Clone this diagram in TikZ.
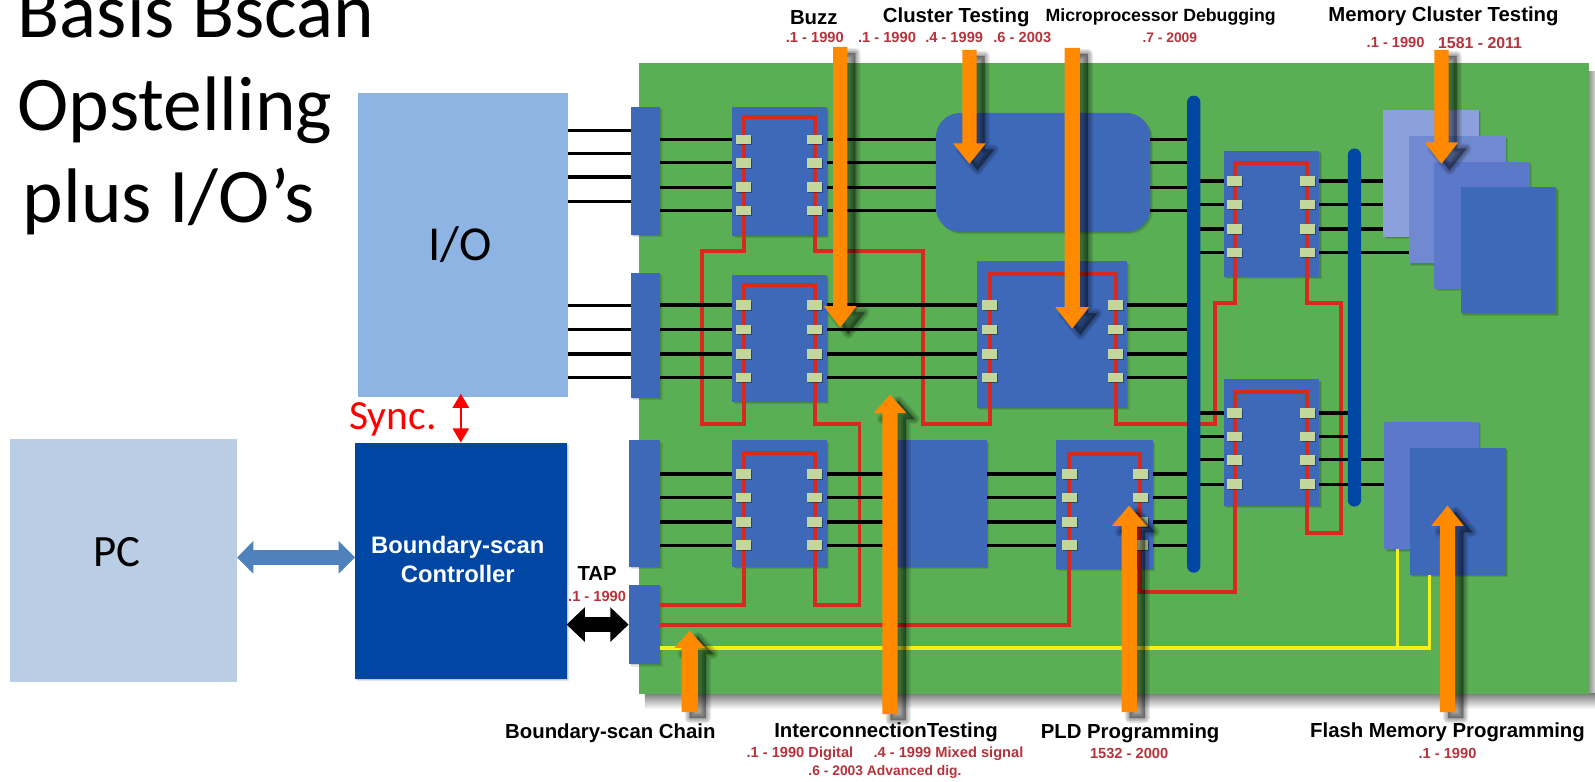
\documentclass[tikz,border=0pt]{standalone}
\usepackage{fontspec}
\setmainfont{Liberation Sans}
\newfontfamily\calfont{Carlito}
\usetikzlibrary{arrows.meta,shadows,calc}
\definecolor{boardc}{HTML}{5AAF55}
\definecolor{chipc}{HTML}{3E69B9}
\definecolor{busc}{HTML}{0047A3}
\definecolor{redr}{HTML}{D8291F}
\definecolor{orangec}{HTML}{FF8A00}
\definecolor{pinc}{HTML}{C3D69B}
\definecolor{labelred}{HTML}{B5343C}
\definecolor{yellowc}{HTML}{F4F01C}
\definecolor{iobox}{HTML}{8EB4E3}
\definecolor{pcbox}{HTML}{B9CDE5}
\definecolor{dblue}{HTML}{4F81BD}
\definecolor{memA}{HTML}{8CA1DC}
\definecolor{memB}{HTML}{7089D1}
\definecolor{memC}{HTML}{5C78CA}
\pgfdeclarelayer{toplayer}
\pgfsetlayers{main,toplayer}
\tikzset{
 softstep/.style n args={4}{general shadow={fill=black,opacity=#2,shadow xshift=#3,shadow yshift=#4}},
 softA/.style={softstep={0pt}{.12}{.6pt}{-.6pt},softstep={0pt}{.1}{1.2pt}{-1.2pt}},
 bxbase/.style={inner sep=0pt,outer sep=0pt,draw=none},
 chipbox/.style={bxbase,fill=chipc,softA},
 connbox/.style={chipbox},
 membox/.style={bxbase,softA},
 pinbox/.style={bxbase,fill=pinc,minimum width=7.4pt,minimum height=4.7pt,
   general shadow={fill=black,opacity=.35,shadow xshift=.5pt,shadow yshift=-.5pt}},
 wire/.style={draw=black,line width=1.65pt},
 ioline/.style={draw=black,line width=1.5pt},
 redroute/.style={draw=redr,line width=1.9pt,line join=miter},
 yelroute/.style={draw=yellowc,line width=1.5pt},
 orangearrow/.style={fill=orangec,draw=none},
 arrowshade/.style={fill=black,draw=black,line width=#1,opacity=.085,line join=round,shift={(8,6)}},
 head/.style={font=\bfseries\fontsize{10}{12}\selectfont,inner sep=0pt},
 sub/.style={font=\bfseries\fontsize{7.2}{9}\selectfont,text=labelred,inner sep=0pt},
 titletext/.style={font=\calfont\fontsize{38}{46}\selectfont,anchor=base west,inner sep=0pt},
}
\newcommand{\bx}[6]{%
 \pgfmathsetmacro\bxw{(#5-#3)*0.5}\pgfmathsetmacro\bxh{(#6-#4)*0.5}%
 \node[#1,minimum width=\bxw pt,minimum height=\bxh pt] (#2) at ({(#3+#5)/2},{(#4+#6)/2}) {};}
% name xl xr y1 y2 y3 y4
\newcommand{\pinset}[7]{%
 \begin{pgfonlayer}{toplayer}
 \node[pinbox] (#1L1) at (#2,#4) {}; \node[pinbox] (#1R1) at (#3,#4) {};
 \node[pinbox] (#1L2) at (#2,#5) {}; \node[pinbox] (#1R2) at (#3,#5) {};
 \node[pinbox] (#1L3) at (#2,#6) {}; \node[pinbox] (#1R3) at (#3,#6) {};
 \node[pinbox] (#1L4) at (#2,#7) {}; \node[pinbox] (#1R4) at (#3,#7) {};
 \end{pgfonlayer}}
% cx ytail ytip halfshaft halfhead headbase
\newcommand{\oarrowpath}[6]{({#1-#4},#2) -- ({#1+#4},#2) -- ({#1+#4},#6) -- ({#1+#5},#6) -- (#1,#3) -- ({#1-#5},#6) -- ({#1-#4},#6) -- cycle}
\newcommand{\oarrow}[6]{%
 \foreach \shw in {5pt,3.8pt,2.6pt,1.4pt,.2pt}{\path[arrowshade=\shw] \oarrowpath{#1}{#2}{#3}{#4}{#5}{#6};}
 \path[orangearrow] \oarrowpath{#1}{#2}{#3}{#4}{#5}{#6};}
\begin{document}
\begin{tikzpicture}[x=0.5pt,y=-0.5pt]
\useasboundingbox (0,0) rectangle (1568,767.8);
\fill[white] (0,0) rectangle (1568,767.8);
% board and its shadow
\shade[left color=black!50,right color=black!18] (1560,70) rectangle (1568,684);
\shade[top color=black!50,bottom color=white] (634,682) rectangle (1568,697);
\bx{bxbase,fill=boardc}{board}{628}{62}{1562}{682}
% left boxes
\bx{bxbase,fill=iobox}{io}{352}{91}{558}{390}
\bx{bxbase,fill=pcbox}{pc}{10}{432}{233}{670}
\bx{bxbase,fill=busc,softA}{ctrl}{349}{435}{557}{667}
% connectors
\bx{connbox}{connA}{620}{105}{649}{231}
\bx{connbox}{connB}{620}{268}{649}{391}
\bx{connbox}{connC}{618}{433}{649}{557}
\bx{connbox}{tap}{618}{575}{649}{653}
% chips
\bx{chipbox}{c1}{720}{105}{813}{232}
\bx{chipbox}{c2}{720}{270}{813}{395}
\bx{chipbox}{c3}{720}{433}{813}{557}
\bx{chipbox}{c4}{882}{433}{970}{557}
\bx{chipbox}{c5}{1038}{433}{1133}{559}
\bx{chipbox}{cb}{960}{257}{1108}{401}
\bx{chipbox}{c6}{1203}{148}{1297}{272}
\bx{chipbox}{c7}{1203}{373}{1297}{497}
\bx{chipbox,rounded corners=12pt}{clus}{920}{111}{1131}{228}
% memories
\bx{membox,fill=memA}{mA}{1360}{108}{1454}{233}
\bx{membox,fill=memB}{mB}{1385}{134}{1480}{259}
\bx{membox,fill=memC}{mC}{1410}{159}{1504}{284}
\bx{membox,fill=chipc}{mD}{1436}{184}{1530}{308}
\bx{membox,fill=memC}{fA}{1361}{415}{1454}{540}
\bx{membox,fill=chipc}{fB}{1386}{440}{1480}{565}
% pins
\pinset{c1}{731}{801}{137}{160}{184}{207}
\pinset{c2}{731}{801}{300}{324}{348}{371}
\pinset{c3}{731}{801}{466}{489}{513}{536}
\pinset{c5}{1051}{1121}{466}{489}{513}{536}
\pinset{cb}{973}{1097}{300}{324}{348}{371}
\pinset{c6}{1214}{1285}{178}{201}{225}{248}
\pinset{c7}{1214}{1285}{406}{429}{452}{476}
% route levels
\coordinate (h247) at (0,247); \coordinate (h298) at (0,298); \coordinate (h417) at (0,417);
\coordinate (h524) at (0,524); \coordinate (h582) at (0,582); \coordinate (h595) at (0,595);
\coordinate (h614) at (0,614); \coordinate (h637) at (0,637);
\coordinate (t1) at (0,115); \coordinate (t2) at (0,280); \coordinate (t3) at (0,445);
\coordinate (t5) at (0,446); \coordinate (tb) at (0,269); \coordinate (t6) at (0,160); \coordinate (t7) at (0,385);
\coordinate (v690) at (690,0); \coordinate (v845) at (845,0); \coordinate (v907) at (907,0);
\coordinate (v1194) at (1194,0); \coordinate (v1318) at (1318,0); \coordinate (v1374) at (1374,0); \coordinate (v1405) at (1405,0);
% scan chain
\draw[redroute] (tap.east|-h595) -- (c3L4|-h595) -- (c3L1|-t3) -- (c3R1|-t3) -- (c3R4|-h595)
 -- (v845|-h595) -- (v845|-h417) -- (c2R4|-h417) -- (c2R1|-t2) -- (c2L1|-t2) -- (c2L4|-h417)
 -- (v690|-h417) -- (v690|-h247) -- (c1L4|-h247) -- (c1L1|-t1) -- (c1R1|-t1) -- (c1R4|-h247)
 -- (v907|-h247) -- (v907|-h417) -- (cbL4|-h417) -- (cbL1|-tb) -- (cbR1|-tb) -- (cbR4|-h417)
 -- (v1194|-h417) -- (v1194|-h298) -- (c6L4|-h298) -- (c6L1|-t6) -- (c6R1|-t6) -- (c6R4|-h298)
 -- (v1318|-h298) -- (v1318|-h524) -- (c7R4|-h524) -- (c7R1|-t7) -- (c7L1|-t7) -- (c7L4|-h582)
 -- (c5R4|-h582) -- (c5R1|-t5) -- (c5L1|-t5) -- (c5L4|-h614) -- (tap.east|-h614);
% yellow
\draw[yelroute] (tap.east|-h637) -- (v1405|-h637) -- (v1405|-fB.south);
\draw[yelroute] (v1374|-h637) -- (v1374|-fA.south);
% I/O lines
\coordinate (io1) at (0,128); \coordinate (io2) at (0,151); \coordinate (io3) at (0,174); \coordinate (io4) at (0,198);
\foreach \k in {1,2,3,4}{
 \draw[ioline] (io.east|-io\k) -- (connA.west|-io\k);
 \draw[ioline] (io.east|-c2L\k) -- (connB.west|-c2L\k);
 \draw[wire] (connA.east|-c1L\k) -- (c1.west|-c1L\k);
 \draw[wire] (c1.east|-c1L\k) -- (clus.west|-c1L\k);
 \draw[wire] (clus.east|-c1L\k) -- ($(clus.east|-c1L\k)+(36,0)$);
 \draw[wire] (connB.east|-c2L\k) -- (c2.west|-c2L\k);
 \draw[wire] (c2.east|-c2L\k) -- (cb.west|-c2L\k);
 \draw[wire] (cb.east|-cbL\k) -- ($(cb.east|-cbL\k)+(60,0)$);
 \draw[wire] (connC.east|-c3L\k) -- (c3.west|-c3L\k);
 \draw[wire] (c3.east|-c3L\k) -- (c4.west|-c3L\k);
 \draw[wire] (c4.east|-c3L\k) -- (c5.west|-c3L\k);
 \draw[wire] (c5.east|-c5L\k) -- ($(c5.east|-c5L\k)+(35,0)$);
 \draw[wire] ($(c6.west|-c6L\k)+(-24,0)$) -- (c6.west|-c6L\k);
 \draw[wire] ($(c7.west|-c7L\k)+(-24,0)$) -- (c7.west|-c7L\k);
}
\foreach \k in {1,2,3}{\draw[wire] (c6.east|-c6R\k) -- (mA.west|-c6R\k);}
\draw[wire] (c6.east|-c6R4) -- (mB.west|-c6R4);
\draw[wire] (c7.east|-c7R1) -- ($(c7.east|-c7R1)+(30,0)$);
\draw[wire] (c7.east|-c7R2) -- ($(c7.east|-c7R2)+(30,0)$);
\draw[wire] (c7.east|-c7R3) -- (fA.west|-c7R3);
\draw[wire] (c7.east|-c7R4) -- (fA.west|-c7R4);
% buses
\bx{bxbase,fill=busc,rounded corners=3.2pt}{busA}{1167}{94}{1180}{563}
\bx{bxbase,fill=busc,rounded corners=3.2pt}{busB}{1325}{146}{1338}{498}
% block arrows
\coordinate (ay) at (0,548); \coordinate (by) at (0,614);
\draw[dblue,line width=7.5pt,{Triangle[length=8pt,width=15.5pt]}-{Triangle[length=8pt,width=15.5pt]}] (pc.east|-ay) -- (ctrl.west|-ay);
\draw[black,line width=7.7pt,{Triangle[length=9pt,width=16.5pt]}-{Triangle[length=9pt,width=16.5pt]}] (ctrl.east|-by) -- (tap.west|-by);
\draw[red,line width=1pt,shorten <=-1.5pt,{Triangle[length=7pt,width=8pt]}-{Triangle[length=7pt,width=8pt]}] (ctrl.north|-io.south) -- (ctrl.north);
% orange arrows
\begin{pgfonlayer}{toplayer}
\oarrow{826}{46}{322}{7}{16}{301}
\oarrow{953}{49}{161}{7}{16}{141}
\oarrow{1054}{47}{323}{7.5}{16.5}{302}
\oarrow{1417}{49}{161}{7}{16.5}{140}
\oarrow{875}{702}{388}{7.5}{16}{406}
\oarrow{678}{700}{620}{8}{15}{637}
\oarrow{1110}{700}{497}{7.5}{17}{517}
\oarrow{1423}{700}{497}{7.5}{16}{517}
\end{pgfonlayer}
% box text
\node[font=\calfont\fontsize{24}{28}\selectfont,inner sep=0pt] (iolabel) at (452,240) {I/O};
\node[font=\calfont\fontsize{22}{26}\selectfont,inner sep=0pt] (pclabel) at (115,543) {PC};
\node[font=\calfont\fontsize{20.4}{24}\selectfont,text=red,inner sep=0pt,anchor=base west] (synclabel) at (343,422) {Sync.};
\node[font=\bfseries\fontsize{11.7}{14.7}\selectfont,text=white,align=center,inner sep=0pt] (ctrllabel) at (450,550) {Boundary-scan\\Controller};
% title
\node[titletext] (titleA) at (17,37) {Basis Bscan};
\node[titletext] (titleB) at (17,128) {Opstelling};
\node[titletext] (titleC) at (22,219) {plus I/O’s};
% labels
\node[head] (lBuzz) at (800,17) {Buzz};
\node[sub] (sBuzz) at (801,37) {.1 - 1990};
\node[head] (lClus) at (940,17) {Cluster Testing};
\node[sub] (sClusA) at (872,37) {.1 - 1990};
\node[sub] (sClusB) at (938,37) {.4 - 1999};
\node[sub] (sClusC) at (1005,37) {.6 - 2003};
\node[head,font=\bfseries\fontsize{8.7}{11}\selectfont] (lMicro) at (1141,17) {Microprocessor Debugging};
\node[sub,font=\bfseries\fontsize{6.8}{9}\selectfont] (sMicro) at (1150,37) {.7 - 2009};
\node[head] (lMem) at (1419,16) {Memory Cluster Testing};
\node[sub] (sMemA) at (1372,42) {.1 - 1990};
\node[sub,font=\bfseries\fontsize{7.8}{9}\selectfont] (sMemB) at (1455,42) {1581 - 2011};
\node[head] (lTap) at (587,564) {TAP};
\node[sub] (sTap) at (587,586) {.1 - 1990};
\node[head] (lChain) at (600,721) {Boundary-scan Chain};
\node[head] (lInter) at (871,720) {InterconnectionTesting};
\node[sub] (sInterA) at (870,741) {.1 - 1990 Digital \ \ \ \ .4 - 1999 Mixed signal};
\node[sub,font=\bfseries\fontsize{6.8}{9}\selectfont] (sInterB) at (870,759) {.6 - 2003 Advanced dig.};
\node[head] (lPld) at (1111,721) {PLD Programming};
\node[sub] (sPld) at (1110,741) {1532 - 2000};
\node[head] (lFlash) at (1423,720) {Flash Memory Programming};
\node[sub] (sFlash) at (1423,741) {.1 - 1990};
\end{tikzpicture}
\end{document}
